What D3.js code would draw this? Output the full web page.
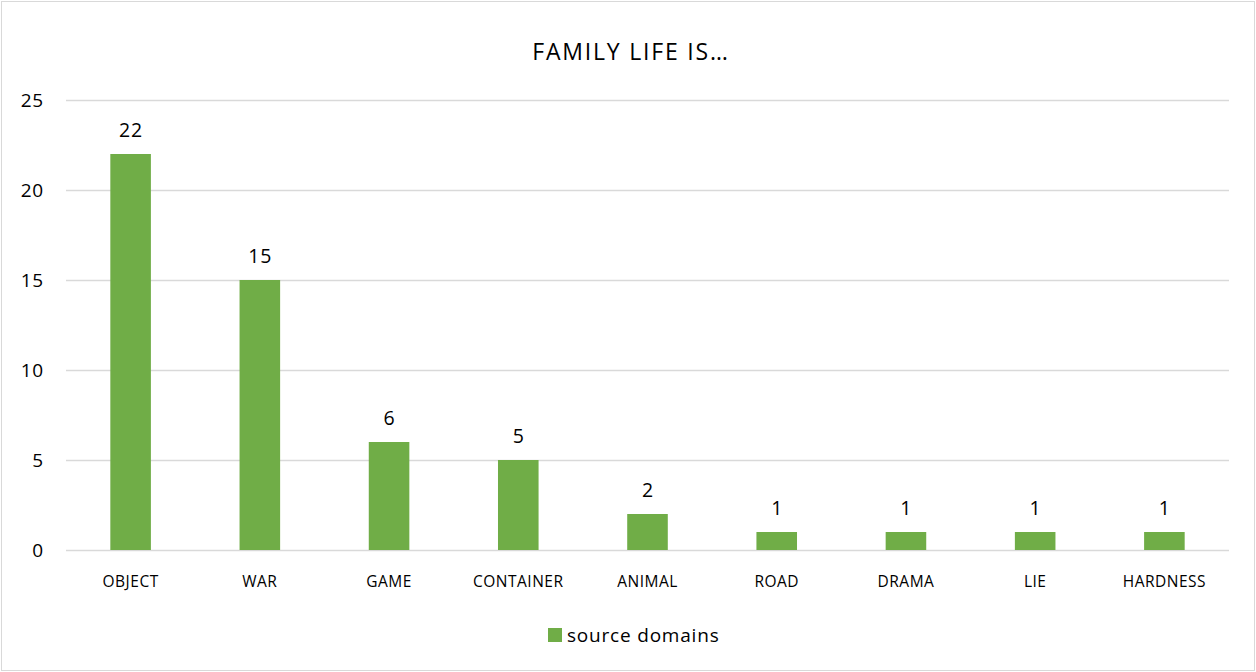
<!DOCTYPE html>
<html>
<head>
<meta charset="utf-8">
<script src="https://cdn.jsdelivr.net/npm/d3@7"></script>
<style>
  html, body { margin: 0; padding: 0; background: #fff; }
  svg { display: block; font-family: "Open Sans", "Noto Sans", sans-serif; }
</style>
</head>
<body>
<svg id="chart" width="1256" height="672"></svg>
<script>
const categories = ["OBJECT", "WAR", "GAME", "CONTAINER", "ANIMAL", "ROAD", "DRAMA", "LIE", "HARDNESS"];
const values = [22, 15, 6, 5, 2, 1, 1, 1, 1];
const yTicks = [0, 5, 10, 15, 20, 25];
const seriesName = "source domains";
const titleText = "FAMILY LIFE IS…";

const W = 1256, H = 672;
const margin = { left: 66, right: 27, top: 100, bottom: 122 };
const svg = d3.select("#chart");

// outer frame
svg.append("rect")
  .attr("x", 1.5).attr("y", 1.5)
  .attr("width", W - 3).attr("height", H - 3)
  .attr("fill", "#fff").attr("stroke", "#d9d9d9").attr("stroke-width", 1);

const x = d3.scaleBand()
  .domain(categories)
  .range([margin.left, W - margin.right])
  .paddingInner(0.686).paddingOuter(0.343);

const y = d3.scaleLinear()
  .domain([0, 25])
  .range([H - margin.bottom, margin.top]);

// horizontal gridlines
svg.append("g")
  .selectAll("line")
  .data(yTicks)
  .join("line")
  .attr("x1", margin.left).attr("x2", W - margin.right)
  .attr("y1", d => Math.round(y(d)) + 0.5).attr("y2", d => Math.round(y(d)) + 0.5)
  .attr("stroke", "#d9d9d9").attr("stroke-width", 1.5);

// y axis labels
const yAxis = d3.axisLeft(y).tickValues(yTicks).tickSize(0).tickPadding(22);
svg.append("g")
  .attr("transform", `translate(${margin.left},0)`)
  .call(yAxis)
  .call(g => g.select(".domain").remove())
  .call(g => g.selectAll("text")
    .attr("font-size", 19).attr("letter-spacing", 0.8).attr("fill", "#000")
    .attr("font-family", "\"Open Sans\", sans-serif"));

// bars
svg.append("g")
  .selectAll("rect")
  .data(values)
  .join("rect")
  .attr("x", (d, i) => x(categories[i]))
  .attr("width", x.bandwidth())
  .attr("y", d => y(d))
  .attr("height", d => y(0) - y(d))
  .attr("fill", "#70ad47");

// value labels
svg.append("g")
  .selectAll("text")
  .data(values)
  .join("text")
  .attr("x", (d, i) => x(categories[i]) + x.bandwidth() / 2 + 0.5)
  .attr("y", d => y(d) - 17)
  .attr("text-anchor", "middle")
  .attr("font-size", 19.5)
  .attr("letter-spacing", 1)
  .attr("fill", "#000")
  .text(d => d);

// category axis
const xAxis = d3.axisBottom(x).tickSize(0).tickPadding(26);
svg.append("g")
  .attr("transform", `translate(0,${y(0)})`)
  .call(xAxis)
  .call(g => g.select(".domain").remove())
  .call(g => g.selectAll("text")
    .attr("font-size", 15.5).attr("letter-spacing", 0.5).attr("fill", "#000")
    .attr("font-family", "\"Open Sans\", sans-serif"));

// title
svg.append("text")
  .attr("x", 631)
  .attr("y", 60)
  .attr("text-anchor", "middle")
  .attr("font-size", 23)
  .attr("letter-spacing", 1.8)
  .attr("fill", "#000")
  .text(titleText);

// legend
const legend = svg.append("g").attr("transform", "translate(548,628)");
legend.append("rect").attr("width", 14).attr("height", 14).attr("fill", "#70ad47");
legend.append("text")
  .attr("x", 19).attr("y", 13.5)
  .attr("font-size", 19)
  .attr("letter-spacing", 0.8)
  .attr("fill", "#000")
  .text(seriesName);
</script>
</body>
</html>
